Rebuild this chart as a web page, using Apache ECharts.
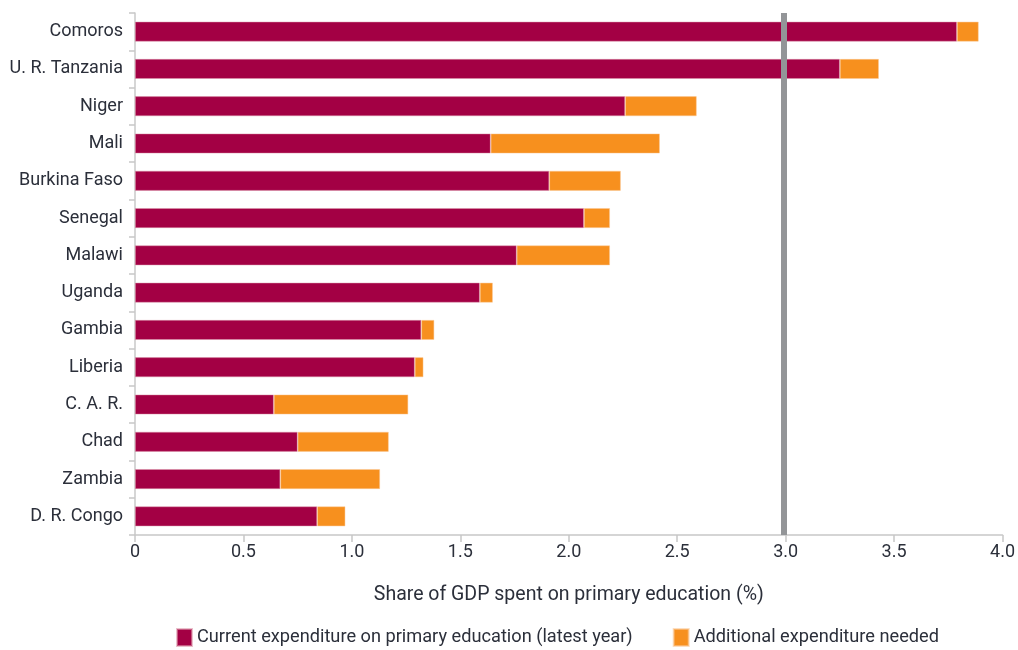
<!DOCTYPE html>
<html>
<head>
<meta charset="utf-8">
<script src="https://cdn.jsdelivr.net/npm/echarts@6/dist/echarts.min.js"></script>
<style>
html,body{margin:0;padding:0;background:#fff;}
#chart{width:1018px;height:650px;}
</style>
</head>
<body>
<div id="chart"></div>
<script>
const countries = ["Comoros","U. R. Tanzania","Niger","Mali","Burkina Faso","Senegal","Malawi","Uganda","Gambia","Liberia","C. A. R.","Chad","Zambia","D. R. Congo"];
const currentExpenditure = [3.79,3.25,2.26,1.64,1.91,2.07,1.76,1.59,1.32,1.29,0.64,0.75,0.67,0.84];
const additionalNeeded = [0.10,0.18,0.33,0.78,0.33,0.12,0.43,0.06,0.06,0.04,0.62,0.42,0.46,0.13];
const seriesNames = ["Current expenditure on primary education (latest year)","Additional expenditure needed"];
const targetLine = 2.987;
const xAxisTitle = "Share of GDP spent on primary education (%)";

const FONT = "'Roboto', sans-serif";
const TXT = "#2b2f3a";
const chart = echarts.init(document.getElementById('chart'), null, {renderer:'canvas'});
chart.setOption({
  animation:false,
  textStyle:{fontFamily:FONT},
  grid:{left:135,right:15,top:13,bottom:115,containLabel:false},
  legend:{
    top:623,left:171,
    icon:'rect',itemWidth:15,itemHeight:17,itemGap:40,
    textStyle:{fontFamily:FONT,fontSize:18.2,color:TXT},
    data:seriesNames
  },
  xAxis:{
    type:'value',min:0,max:4,interval:0.5,
    name:xAxisTitle,nameLocation:'middle',nameGap:50,
    nameTextStyle:{fontFamily:FONT,fontSize:19.5,color:TXT},
    axisLine:{show:true,lineStyle:{color:'#c8c8c8',width:1.5}},
    axisTick:{show:true,length:7,lineStyle:{color:'#c8c8c8',width:1.5}},
    axisLabel:{fontFamily:FONT,fontSize:18,color:TXT,margin:8,
      formatter:v=> v===0 ? '0' : v.toFixed(1)},
    splitLine:{show:false}
  },
  yAxis:{
    type:'category',data:countries,inverse:true,
    axisLine:{show:true,lineStyle:{color:'#c8c8c8',width:1.5}},
    axisTick:{show:true,length:6,lineStyle:{color:'#c8c8c8',width:1.5}},
    axisLabel:{fontFamily:FONT,fontSize:18,color:TXT,margin:12},
    splitLine:{show:false}
  },
  series:[
    {
      name:seriesNames[0],type:'bar',stack:'total',barWidth:20,
      itemStyle:{color:'#A30044',borderColor:'rgba(220,150,170,0.6)',borderWidth:0.8},
      data:currentExpenditure,
      markLine:{
        silent:true,symbol:'none',z:10,
        label:{show:false},
        lineStyle:{color:'#939598',width:6,type:'solid'},
        data:[{xAxis:targetLine}]
      }
    },
    {
      name:seriesNames[1],type:'bar',stack:'total',barWidth:20,
      itemStyle:{color:'#F7901E',borderColor:'rgba(250,200,150,0.6)',borderWidth:0.8},
      data:additionalNeeded
    }
  ]
});
</script>
</body>
</html>
